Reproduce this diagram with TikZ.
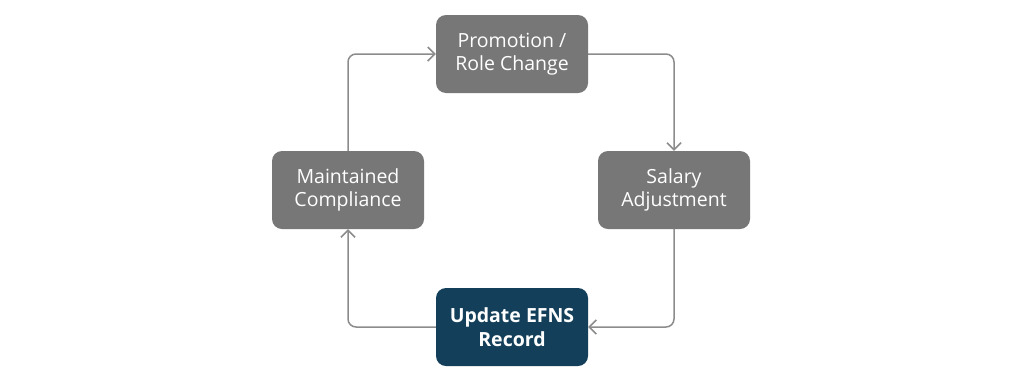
\documentclass[tikz,border=0pt]{standalone}
\usepackage{fontspec}
\setmainfont{Open Sans}
\usetikzlibrary{arrows.meta}

\tikzset{
  stagebox/.style={rectangle,rounded corners=10pt,fill=boxgray,text=white,
    minimum width=152pt,minimum height=78pt,align=center,
    font=\fontsize{19.5}{23.5}\selectfont},
  mainbox/.style={stagebox,fill=boxteal,font=\fontsize{19.5}{23.5}\selectfont\bfseries},
  flow/.style={draw=linegray,line width=1.5pt,rounded corners=8pt,
    -{Straight Barb[length=7pt,width=14pt,line width=1.5pt]}}
}
\definecolor{boxgray}{HTML}{777777}
\definecolor{boxteal}{HTML}{133F5A}
\definecolor{linegray}{HTML}{8C8C8C}

\begin{document}
\begin{tikzpicture}[x=1pt,y=-1pt]
        \useasboundingbox[fill=white] (0,0) rectangle (1024,389);
        % Stages
        \node[stagebox] (promo) at (512,54) {Promotion /\\Role Change};
        \node[stagebox] (salary) at (674,190) {Salary\\Adjustment};
        \node[mainbox] (efns) at (512,327) {Update EFNS\\Record};
        \node[stagebox] (comply) at (348,190) {Maintained\\Compliance};
        % Cycle
        \draw[flow] (promo.east) -| (salary.north);
        \draw[flow] (salary.south) |- (efns.east);
        \draw[flow] (efns.west) -| (comply.south);
        \draw[flow] (comply.north) |- (promo.west);
    \end{tikzpicture}
\end{document}
